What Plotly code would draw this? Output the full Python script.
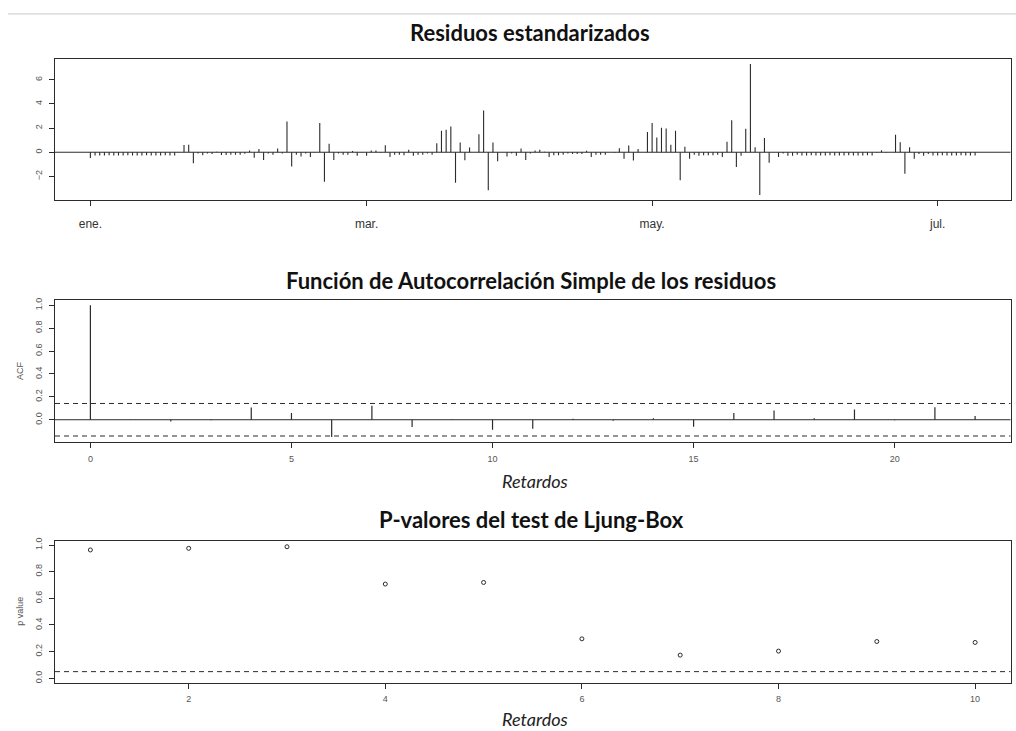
import plotly.graph_objects as go
import pandas as pd

W, H = 1016, 731

# ---------------- data ----------------
start_date = "2019-01-01"
residuos = [
    -0.47, -0.27, -0.27, -0.27, -0.26, -0.27, -0.27, -0.27, -0.26, -0.27,
    -0.27, -0.27, -0.26, -0.27, -0.27, -0.27, -0.26, -0.27, -0.27, -0.02,
    0.60, 0.63, -0.92, -0.10, -0.25, -0.10, -0.15, 0.05, -0.22, -0.22,
    -0.20, -0.20, -0.20, -0.12, 0.15, -0.45, 0.27, -0.65, -0.10, -0.20,
    0.30, -0.10, 2.55, -1.18, -0.20, -0.35, -0.10, -0.40, -0.02, 2.42,
    -2.45, 0.70, -0.65, -0.10, -0.20, -0.20, 0.10, -0.30, -0.03, -0.30,
    0.15, 0.15, -0.05, 0.57, -0.40, -0.20, -0.20, -0.25, 0.20, -0.30,
    -0.20, -0.20, -0.10, -0.20, 0.74, 1.78, 1.86, 2.13, -2.52, 0.80,
    -0.66, 0.40, 0.00, 1.50, 3.46, -3.14, 0.80, -0.74, 0.00, -0.35,
    -0.10, -0.30, 0.30, -0.65, -0.10, 0.15, 0.20, 0.05, -0.40, -0.25,
    -0.25, -0.20, -0.10, -0.15, -0.15, -0.15, 0.12, -0.40, -0.20, -0.20,
    -0.20, 0.00, -0.05, 0.32, -0.55, 0.55, -0.68, 0.27, 0.00, 1.67,
    2.43, 1.23, 2.02, 1.97, 0.63, 1.78, -2.32, 0.46, -0.55, -0.20,
    -0.30, -0.25, -0.25, -0.25, -0.20, -0.40, 0.87, 2.65, -1.23, -0.30,
    1.94, 7.32, 0.41, -3.55, 1.17, -0.87, 0.00, -0.40, -0.10, -0.30,
    -0.30, -0.20, -0.27, -0.27, -0.26, -0.27, -0.27, -0.27, -0.26, -0.27,
    -0.27, -0.27, -0.26, -0.27, -0.27, -0.27, -0.26, -0.27, -0.05, 0.16,
    -0.05, 0.00, 1.45, 0.82, -1.78, 0.41, -0.55, -0.15, -0.30, -0.15,
    -0.27, -0.27, -0.26, -0.27, -0.27, -0.27, -0.26, -0.27, -0.27, -0.27,
]
fechas = pd.date_range(start_date, periods=len(residuos), freq="D")

month_ticks = ["2019-01-01", "2019-03-01", "2019-05-01", "2019-07-01"]
month_labels = ["ene.", "mar.", "may.", "jul."]
resid_ticks = [-2, 0, 2, 4, 6]

acf_lags = list(range(23))
acf_vals = [1.000, 0.002, -0.015, -0.005, 0.107, 0.058, -0.151, 0.122, -0.064,
            0.005, -0.087, -0.078, 0.009, -0.009, 0.012, -0.061, 0.058, 0.081,
            0.012, 0.090, -0.004, 0.110, 0.032]
conf_lim = 0.142
acf_xticks = [0, 5, 10, 15, 20]
acf_yticks = [0.0, 0.2, 0.4, 0.6, 0.8, 1.0]

lb_lags = list(range(1, 11))
lb_pvals = [0.963, 0.975, 0.987, 0.707, 0.719, 0.296, 0.174, 0.204, 0.276, 0.269]
lb_signif = 0.05
lb_xticks = [2, 4, 6, 8, 10]
lb_yticks = [0.0, 0.2, 0.4, 0.6, 0.8, 1.0]

titles = ["Residuos estandarizados",
          "Función de Autocorrelación Simple de los residuos",
          "P-valores del test de Ljung-Box"]
xlabel = "Retardos"

# ---------------- helpers ----------------
def stems(xs, ys):
    xx, yy = [], []
    for x, y in zip(xs, ys):
        xx += [x, x, None]
        yy += [0, y, None]
    return xx, yy

def py(p):
    return 1 - p / H

def px(p):
    return p / W

INK = "#2b2b2b"
TICKC = "#555555"
XDOM = [px(55), px(1010.5)]
DASH = "5px,4px"

fig = go.Figure()

rx, ry = stems(fechas, residuos)
fig.add_trace(go.Scatter(x=rx, y=ry, mode="lines", line=dict(color=INK, width=1.1),
                         xaxis="x", yaxis="y", showlegend=False, hoverinfo="skip"))

ax, ay = stems(acf_lags, acf_vals)
fig.add_trace(go.Scatter(x=ax, y=ay, mode="lines", line=dict(color=INK, width=1.2),
                         xaxis="x2", yaxis="y2", showlegend=False, hoverinfo="skip"))

fig.add_trace(go.Scatter(x=lb_lags, y=lb_pvals, mode="markers",
                         marker=dict(symbol="circle-open", size=4, color=INK,
                                     line=dict(width=1, color=INK)),
                         xaxis="x3", yaxis="y3", showlegend=False, hoverinfo="skip"))

span = fechas[-1] - fechas[0]
pad = span * 0.04

common = dict(showline=True, mirror=True, linecolor=INK, linewidth=1,
              ticks="outside", ticklen=5, tickcolor=INK, showgrid=False,
              zeroline=False, tickfont=dict(family="Liberation Sans", size=9, color=TICKC))

fig.update_layout(
    width=W, height=H,
    margin=dict(l=0, r=0, t=0, b=0),
    paper_bgcolor="white", plot_bgcolor="white",
    xaxis=dict(domain=XDOM, anchor="y", type="date",
               range=[fechas[0] - pad, fechas[-1] + pad],
               tickvals=month_ticks, ticktext=month_labels,
               ticklabelstandoff=8,
               **{**common, "tickfont": dict(family="Liberation Sans", size=12, color="#333")}),
    yaxis=dict(domain=[py(198), py(56)], anchor="x", range=[-3.95, 7.75],
               tickvals=resid_ticks, tickangle=-90, ticklabelstandoff=3, **common),
    xaxis2=dict(domain=XDOM, anchor="y2", range=[-0.88, 22.88],
                tickvals=acf_xticks, ticklabelstandoff=3, **common),
    yaxis2=dict(domain=[py(441.7), py(298.7)], anchor="x2", range=[-0.197, 1.046],
                tickvals=acf_yticks, ticktext=[f"{v:.1f}" for v in acf_yticks],
                tickangle=-90, ticklabelstandoff=3, **common),
    xaxis3=dict(domain=XDOM, anchor="y3", range=[0.64, 10.36],
                tickvals=lb_xticks, ticklabelstandoff=3, **common),
    yaxis3=dict(domain=[py(683.3), py(540.7)], anchor="x3", range=[-0.032, 1.032],
                tickvals=lb_yticks, ticktext=[f"{v:.1f}" for v in lb_yticks],
                tickangle=-90, ticklabelstandoff=3, **common),
)

shapes = [
    dict(type="line", xref="x domain", yref="y", x0=0, x1=1, y0=0, y1=0,
         line=dict(color=INK, width=1)),
    dict(type="line", xref="x2 domain", yref="y2", x0=0, x1=1, y0=0, y1=0,
         line=dict(color=INK, width=1)),
    dict(type="line", xref="x2 domain", yref="y2", x0=0, x1=1, y0=conf_lim, y1=conf_lim,
         line=dict(color=INK, width=1, dash=DASH)),
    dict(type="line", xref="x2 domain", yref="y2", x0=0, x1=1, y0=-conf_lim, y1=-conf_lim,
         line=dict(color=INK, width=1, dash=DASH)),
    dict(type="line", xref="x3 domain", yref="y3", x0=0, x1=1, y0=lb_signif, y1=lb_signif,
         line=dict(color=INK, width=1, dash=DASH)),
    dict(type="line", xref="paper", yref="paper", x0=px(8), x1=1, y0=py(11), y1=py(11),
         line=dict(color="#c8c8c8", width=1)),
]
fig.update_layout(shapes=shapes)

title_font = dict(family="Lato", size=22, color="#111", weight="bold")
label_font = dict(family="Lato", size=18, color="#222", style="italic")
small_font = dict(family="Liberation Sans", size=9, color=TICKC)

ann = [
    dict(text=titles[0], x=px(530), y=py(30), font=title_font),
    dict(text=titles[1], x=px(531), y=py(279), font=title_font),
    dict(text=titles[2], x=px(531), y=py(519), font=title_font),
    dict(text=xlabel, x=px(535), y=py(481), font=label_font),
    dict(text=xlabel, x=px(535), y=py(720), font=label_font),
    dict(text="ACF", x=px(20), y=py(370), font=small_font, textangle=-90),
    dict(text="p value", x=px(20), y=py(612), font=small_font, textangle=-90),
]
for a in ann:
    a.update(xref="paper", yref="paper", xanchor="center", yanchor="middle", showarrow=False)
fig.update_layout(annotations=ann)

fig.write_html("out.html",
               config={"displayModeBar": False},
               post_script="document.body.style.margin='0px';document.body.style.overflow='hidden';")
